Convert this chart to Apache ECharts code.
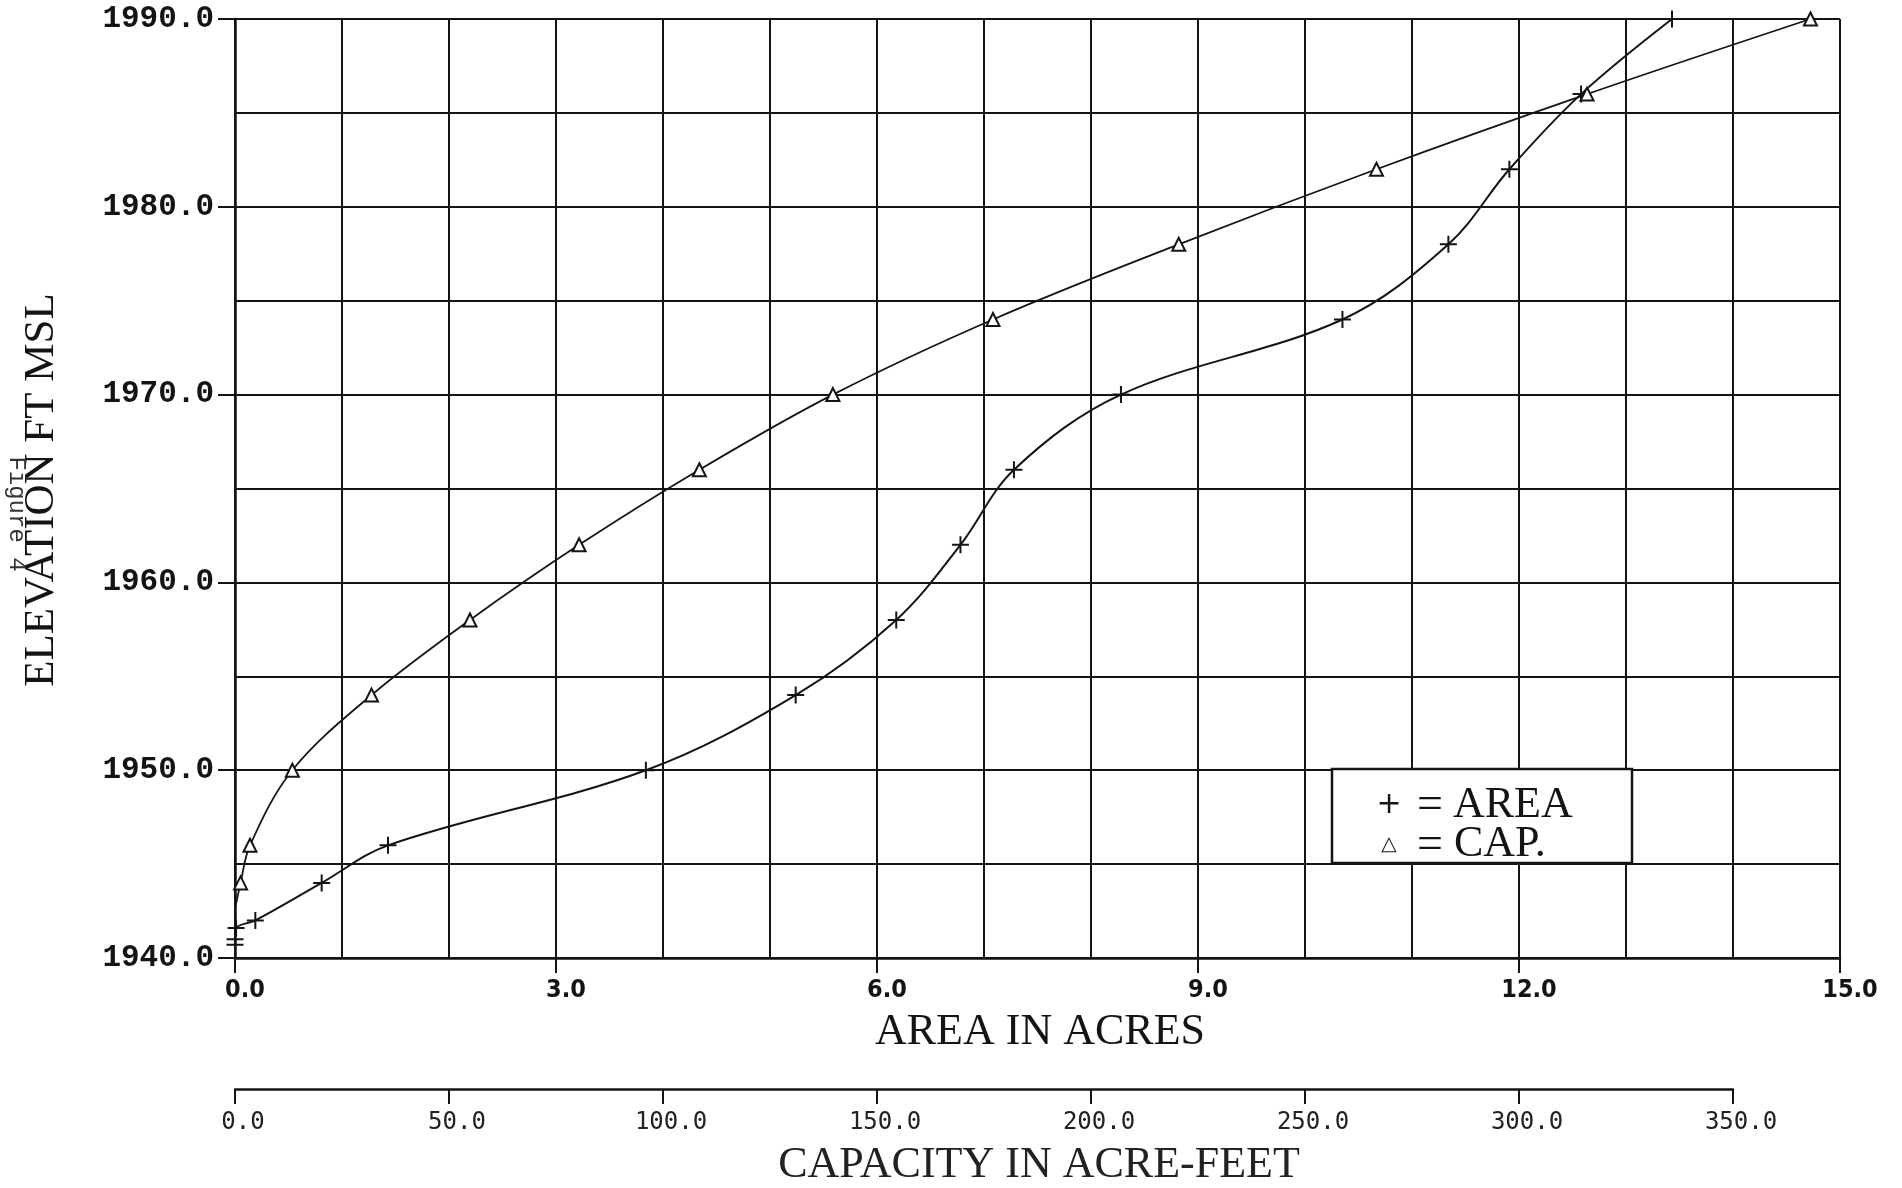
<!DOCTYPE html>
<html>
<head>
<meta charset="utf-8">
<title>Elevation - Area - Capacity</title>
<script src="https://cdn.jsdelivr.net/npm/echarts@6/dist/echarts.min.js"></script>
<style>
  html, body { margin: 0; padding: 0; background: #ffffff; }
  #chart { width: 1902px; height: 1188px; }
</style>
</head>
<body>
<div id="chart"></div>
<script>
// ---- data ----
const areaElev  = [1940.7, 1941.0, 1941.6, 1942, 1944, 1946, 1950, 1954, 1958, 1962, 1966, 1970, 1974, 1978, 1982, 1986, 1990];
const areaAcres = [0.0, 0.0, 0.01, 0.19, 0.81, 1.43, 3.84, 5.24, 6.18, 6.78, 7.28, 8.28, 10.35, 11.34, 11.91, 12.58, 13.43];

const capElev    = [1942.6, 1944, 1946, 1950, 1954, 1958, 1962, 1966, 1970, 1974, 1978, 1982, 1986, 1990];
const capAcreFt  = [0.0, 1.3, 3.5, 13.4, 31.9, 54.9, 80.4, 108.5, 139.7, 177.1, 220.5, 266.7, 315.9, 368.1];
const capMarked  = [false, true, true, true, true, true, true, true, true, true, true, true, true, true];

const elevTicks = [1940, 1950, 1960, 1970, 1980, 1990];
const areaTicks = [0, 3, 6, 9, 12, 15];
const capTicks  = [0, 50, 100, 150, 200, 250, 300, 350];

const yTitle   = 'ELEVATION FT MSL';
const figNote  = 'Figure 4';
const xTitle   = 'AREA IN ACRES';
const capTitle = 'CAPACITY IN ACRE-FEET';
const legendArea = 'AREA';
const legendCap  = 'CAP.';

// ---- build series data ----
const areaData = areaAcres.map((a, i) => [a, areaElev[i]]);
const capData = capAcreFt.map((c, i) => capMarked[i]
  ? [c, capElev[i]]
  : { value: [c, capElev[i]], symbol: 'none' });

const INK = '#141414';
const PLUS = 'path://M5,0L5,10M0,5L10,5';
const NARROW = '"Liberation Sans Narrow", "DejaVu Sans Condensed", "Liberation Sans", sans-serif';

const chart = echarts.init(document.getElementById('chart'), null, { renderer: 'canvas' });

const option = {
  backgroundColor: '#ffffff',
  animation: false,
  grid: [
    { left: 235, top: 19, width: 1605, height: 939, containLabel: false },
    { left: 235, top: 1088, width: 1498, height: 1, containLabel: false }
  ],
  xAxis: [
    {
      gridIndex: 0, type: 'value', position: 'bottom',
      min: areaTicks[0], max: areaTicks[areaTicks.length - 1], interval: 3,
      axisLine: { show: true, onZero: false, lineStyle: { color: INK, width: 2.5 } },
      axisTick: { show: true, inside: false, length: 15, lineStyle: { color: INK, width: 2 } },
      minorTick: { show: false, splitNumber: 3 },
      splitLine: { show: true, lineStyle: { color: INK, width: 2 } },
      minorSplitLine: { show: true, lineStyle: { color: INK, width: 2 } },
      axisLabel: {
        show: true, margin: 20, color: INK,
        fontFamily: NARROW, fontSize: 25, fontWeight: 'bold',
        padding: [0, 0, 0, 20],
        formatter: v => Number(v).toFixed(1)
      }
    },
    {
      gridIndex: 0, type: 'value', min: 0, max: 375, show: false,
      splitLine: { show: false }
    },
    {
      gridIndex: 1, type: 'value', position: 'bottom',
      min: capTicks[0], max: capTicks[capTicks.length - 1], interval: 50,
      axisLine: { show: true, onZero: false, lineStyle: { color: INK, width: 2.5 } },
      axisTick: { show: true, inside: false, length: 15, lineStyle: { color: INK, width: 2 } },
      splitLine: { show: false },
      axisLabel: {
        show: true, margin: 22, color: '#222',
        fontFamily: 'DejaVu Sans Mono', fontSize: 24,
        padding: [0, 0, 0, 16],
        formatter: v => Number(v).toFixed(1)
      }
    }
  ],
  yAxis: [
    {
      gridIndex: 0, type: 'value',
      min: elevTicks[0], max: elevTicks[elevTicks.length - 1], interval: 10,
      axisLine: { show: true, onZero: false, lineStyle: { color: INK, width: 2.5 } },
      axisTick: { show: true, inside: false, length: 17, lineStyle: { color: INK, width: 2 } },
      minorTick: { show: false, splitNumber: 2 },
      splitLine: { show: true, lineStyle: { color: INK, width: 2 } },
      minorSplitLine: { show: true, lineStyle: { color: INK, width: 2 } },
      axisLabel: {
        show: true, margin: 21, color: INK,
        fontFamily: '"Liberation Mono", "DejaVu Sans Mono", monospace', fontSize: 31, fontWeight: 'bold',
        formatter: v => Number(v).toFixed(1)
      }
    },
    { gridIndex: 1, type: 'value', show: false, min: 0, max: 1 }
  ],
  series: [
    {
      name: legendArea, type: 'line', xAxisIndex: 0, yAxisIndex: 0,
      data: areaData, smooth: 0.35, clip: false,
      symbol: PLUS, symbolSize: 17, showAllSymbol: true,
      lineStyle: { color: INK, width: 2 },
      itemStyle: { color: INK, borderColor: INK, borderWidth: 2 },
      emphasis: { disabled: true }, silent: true, z: 5
    },
    {
      name: legendCap, type: 'line', xAxisIndex: 1, yAxisIndex: 0,
      data: capData, smooth: 0.35, clip: false,
      symbol: 'emptyTriangle', symbolSize: 13, showAllSymbol: true,
      lineStyle: { color: INK, width: 1.8 },
      itemStyle: { color: INK, borderColor: INK, borderWidth: 1.6 },
      emphasis: { disabled: true }, silent: true, z: 5
    }
  ],
  graphic: [
    {
      type: 'text', x: 42, y: 490, rotation: Math.PI / 2, z: 50, silent: true,
      style: { text: yTitle, fill: INK, fontFamily: 'Liberation Serif', fontSize: 43, align: 'center', verticalAlign: 'middle' }
    },
    {
      type: 'text', x: 16, y: 514, rotation: -Math.PI / 2, z: 50, silent: true,
      style: { text: figNote, fill: '#333', fontFamily: 'Liberation Mono', fontSize: 24, align: 'center', verticalAlign: 'middle' }
    },
    {
      type: 'text', x: 1040, y: 1032, z: 50, silent: true,
      style: { text: xTitle, fill: INK, fontFamily: 'Liberation Serif', fontSize: 44, align: 'center', verticalAlign: 'middle' }
    },
    {
      type: 'text', x: 1039, y: 1165, z: 50, silent: true,
      style: { text: capTitle, fill: '#222', fontFamily: 'Liberation Serif', fontSize: 44, align: 'center', verticalAlign: 'middle' }
    },
    {
      type: 'group', z: 60, silent: true,
      children: [
        { type: 'rect', shape: { x: 1332, y: 769, width: 300, height: 94 }, z: 60,
          style: { fill: '#ffffff', stroke: INK, lineWidth: 2.5 } },
        { type: 'text', x: 1389, y: 805, z: 61,
          style: { text: '+', fill: INK, fontFamily: 'DejaVu Sans', fontSize: 30, align: 'center', verticalAlign: 'middle' } },
        { type: 'text', x: 1430, y: 806, z: 61,
          style: { text: '=', fill: INK, fontFamily: 'Liberation Serif', fontSize: 46, align: 'center', verticalAlign: 'middle' } },
        { type: 'text', x: 1453, y: 805, z: 61,
          style: { text: legendArea, fill: INK, fontFamily: 'Liberation Serif', fontSize: 44, align: 'left', verticalAlign: 'middle' } },
        { type: 'text', x: 1389, y: 845, z: 61,
          style: { text: '\u25B3', fill: INK, fontFamily: 'DejaVu Sans', fontSize: 20, align: 'center', verticalAlign: 'middle' } },
        { type: 'text', x: 1430, y: 846, z: 61,
          style: { text: '=', fill: INK, fontFamily: 'Liberation Serif', fontSize: 46, align: 'center', verticalAlign: 'middle' } },
        { type: 'text', x: 1454, y: 844, z: 61,
          style: { text: legendCap, fill: INK, fontFamily: 'Liberation Serif', fontSize: 44, align: 'left', verticalAlign: 'middle' } }
      ]
    }
  ]
};

chart.setOption(option);
</script>
</body>
</html>
